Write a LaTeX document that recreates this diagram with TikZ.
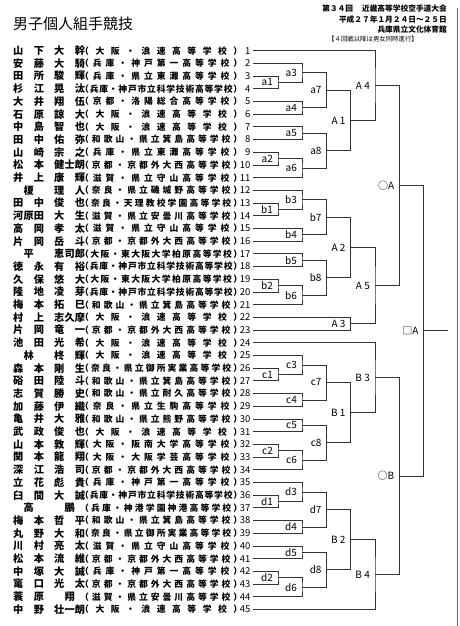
\documentclass[tikz,border=0pt]{standalone}
\usepackage{fontspec}
\setmainfont{Noto Sans CJK JP}
\usetikzlibrary{positioning, calc}

\tikzset{
  bracket/.style={draw=black!80, line width=0.9bp},
  nametxt/.style={anchor=west, inner sep=0pt, font=\fontsize{10.2bp}{11bp}\selectfont\bfseries},
  schooltxt/.style={anchor=west, inner sep=0pt, font=\fontsize{8.8bp}{10bp}\selectfont\bfseries},
  numtxt/.style={anchor=east, inner sep=0pt, font=\fontsize{9.5bp}{10bp}\selectfont},
  boutlbl/.style={inner sep=0pt, font=\fontsize{10bp}{11bp}\selectfont},
  headtxt/.style={anchor=east, inner sep=0pt, font=\fontsize{7.7bp}{9bp}\selectfont\bfseries},
}

% put glue between the characters of a string
\def\spreadchars#1{\spreadA#1\relax}
\def\spreadA#1{\ifx\relax#1\else#1\expandafter\spreadB\fi}
\def\spreadB#1{\ifx\relax#1\else\hfill#1\expandafter\spreadB\fi}
\newcommand{\namehalf}[1]{\hbox to 31bp{\hfil\spreadchars{#1}\hfil}}
\newcommand{\schoolbox}[1]{\hbox to 162bp{\hfil\spreadchars{（#1）}\hfil}}

% one line of the list: number, family name, given name, school
\newcommand{\entrant}[4]{%
  \pgfmathsetmacro{\rowy}{50.7+(#1-1)*12.7}
  \coordinate (p#1) at (253,\rowy);
  \node[nametxt] (nm#1) at (13,\rowy) {\namehalf{#2}\hskip10bp\namehalf{#3}};
  \node[schooltxt] (sc#1) at (80,\rowy) {\schoolbox{#4}};
  \node[numtxt] (no#1) at (250.5,\rowy) {#1};
}

% one bout: name, upper side, lower side, column, label
\newcommand{\bout}[5]{%
  \path let \p1=(#2), \p2=(#3), \p3=(#4) in coordinate (#1) at (\x3,{(\y1+\y2)/2});
  \draw[bracket] (#2) -| (#1) |- (#3);
  \node[boutlbl, left=5bp of #1] (l#1) {#5};
}

\begin{document}
\begin{tikzpicture}[x=1bp, y=-1bp]
  \useasboundingbox (0,0) rectangle (460,626);

  % heading
  \node[anchor=west, inner sep=0pt, font=\fontsize{15bp}{16bp}\selectfont] (title) at (13,23.5) {男子個人組手競技};
  \node[headtxt] (head1) at (447,8.3) {第３４回\hskip9bp 近畿高等学校空手道大会};
  \node[headtxt] (head2) at (447,19.3) {平成２７年１月２４日～２５日};
  \node[headtxt] (head3) at (447,30) {兵庫県立文化体育館};
  \node[headtxt, anchor=west, font=\fontsize{6.4bp}{8bp}\selectfont] (head4) at (328,39.5) {【４回戦以降は男女同時進行】};
  \draw[black!60, line width=0.6bp] (457.5,8) -- (457.5,626);

  % columns of the bracket
  \coordinate (col1) at (278,0);
  \coordinate (col2) at (302,0);
  \coordinate (col3) at (326.7,0);
  \coordinate (col4) at (350.7,0);
  \coordinate (col5) at (375,0);
  \coordinate (col6) at (399.3,0);
  \coordinate (col7) at (423.7,0);
  \coordinate (col8) at (448.3,0);

  % entrants
  \entrant{1}{山下}{大幹}{大阪・浪速高等学校}
  \entrant{2}{安藤}{大騎}{兵庫・神戸第一高等学校}
  \entrant{3}{田所}{駿輝}{兵庫・県立東灘高等学校}
  \entrant{4}{杉江}{晃汰}{兵庫・神戸市立科学技術高等学校}
  \entrant{5}{大井}{翔伍}{京都・洛陽総合高等学校}
  \entrant{6}{石原}{諒大}{大阪・浪速高等学校}
  \entrant{7}{中島}{智也}{大阪・浪速高等学校}
  \entrant{8}{田中}{佑弥}{和歌山・県立箕島高等学校}
  \entrant{9}{山崎}{宗之}{兵庫・県立東灘高等学校}
  \entrant{10}{松本}{健士朗}{京都・京都外大西高等学校}
  \entrant{11}{井上}{康輝}{滋賀・県立守山高等学校}
  \entrant{12}{榎}{理人}{奈良・県立磯城野高等学校}
  \entrant{13}{田中}{俊也}{奈良・天理教校学園高等学校}
  \entrant{14}{河原田}{大生}{滋賀・県立安曇川高等学校}
  \entrant{15}{高岡}{孝太}{滋賀・県立守山高等学校}
  \entrant{16}{片岡}{岳斗}{京都・京都外大西高等学校}
  \entrant{17}{平}{恵司郎}{大阪・東大阪大学柏原高等学校}
  \entrant{18}{徳永}{有裕}{兵庫・神戸市立科学技術高等学校}
  \entrant{19}{久保}{悠大}{大阪・東大阪大学柏原高等学校}
  \entrant{20}{隆地}{凌芽}{兵庫・神戸市立科学技術高等学校}
  \entrant{21}{梅本}{拓巳}{和歌山・県立箕島高等学校}
  \entrant{22}{村上}{志久摩}{大阪・浪速高等学校}
  \entrant{23}{片岡}{竜一}{京都・京都外大西高等学校}
  \entrant{24}{池田}{光希}{大阪・浪速高等学校}
  \entrant{25}{林}{柊輝}{大阪・浪速高等学校}
  \entrant{26}{森本}{剛生}{奈良・県立御所実業高等学校}
  \entrant{27}{硲田}{陸斗}{和歌山・県立箕島高等学校}
  \entrant{28}{志賀}{勝史}{和歌山・県立耐久高等学校}
  \entrant{29}{加藤}{伊織}{奈良・県立生駒高等学校}
  \entrant{30}{亀井}{大雅}{和歌山・県立熊野高等学校}
  \entrant{31}{武政}{俊也}{大阪・浪速高等学校}
  \entrant{32}{山本}{敦輝}{大阪・阪南大学高等学校}
  \entrant{33}{関本}{龍翔}{大阪・大阪学芸高等学校}
  \entrant{34}{深江}{浩司}{京都・京都外大西高等学校}
  \entrant{35}{立花}{彪貴}{兵庫・神戸第一高等学校}
  \entrant{36}{臼間}{大誠}{兵庫・神戸市立科学技術高等学校}
  \entrant{37}{高}{鵬}{兵庫・神港学園神港高等学校}
  \entrant{38}{梅本}{哲平}{和歌山・県立箕島高等学校}
  \entrant{39}{丸野}{大和}{奈良・県立御所実業高等学校}
  \entrant{40}{川村}{亮太}{滋賀・県立守山高等学校}
  \entrant{41}{松本}{流維}{京都・京都外大西高等学校}
  \entrant{42}{中塚}{大誠}{兵庫・神戸第一高等学校}
  \entrant{43}{竃口}{光太}{京都・京都外大西高等学校}
  \entrant{44}{蓑原}{翔}{滋賀・県立安曇川高等学校}
  \entrant{45}{中野}{壮一朗}{大阪・浪速高等学校}

  % block A
  \bout{a1}{p3}{p4}{col1}{a1}
  \bout{a3}{p2}{a1}{col2}{a3}
  \bout{a4}{p5}{p6}{col2}{a4}
  \bout{a7}{a3}{a4}{col3}{a7}
  \bout{a5}{p7}{p8}{col2}{a5}
  \bout{a2}{p9}{p10}{col1}{a2}
  \bout{a6}{a2}{p11}{col2}{a6}
  \bout{a8}{a5}{a6}{col3}{a8}
  \bout{A1}{a7}{a8}{col4}{A 1}
  \bout{A4}{p1}{A1}{col5}{A 4}
  \bout{b1}{p13}{p14}{col1}{b1}
  \bout{b3}{p12}{b1}{col2}{b3}
  \bout{b4}{p15}{p16}{col2}{b4}
  \bout{b7}{b3}{b4}{col3}{b7}
  \bout{b5}{p17}{p18}{col2}{b5}
  \bout{b2}{p19}{p20}{col1}{b2}
  \bout{b6}{b2}{p21}{col2}{b6}
  \bout{b8}{b5}{b6}{col3}{b8}
  \bout{A2}{b7}{b8}{col4}{A 2}
  \bout{A3}{p22}{p23}{col4}{A 3}
  \bout{A5}{A2}{A3}{col5}{A 5}
  \bout{OA}{A4}{A5}{col6}{○A}

  % block B
  \bout{c1}{p26}{p27}{col1}{c1}
  \bout{c3}{p25}{c1}{col2}{c3}
  \bout{c4}{p28}{p29}{col2}{c4}
  \bout{c7}{c3}{c4}{col3}{c7}
  \bout{c5}{p30}{p31}{col2}{c5}
  \bout{c2}{p32}{p33}{col1}{c2}
  \bout{c6}{c2}{p34}{col2}{c6}
  \bout{c8}{c5}{c6}{col3}{c8}
  \bout{B1}{c7}{c8}{col4}{B 1}
  \bout{B3}{p24}{B1}{col5}{B 3}
  \bout{d1}{p36}{p37}{col1}{d1}
  \bout{d3}{p35}{d1}{col2}{d3}
  \bout{d4}{p38}{p39}{col2}{d4}
  \bout{d7}{d3}{d4}{col3}{d7}
  \bout{d5}{p40}{p41}{col2}{d5}
  \bout{d2}{p42}{p43}{col1}{d2}
  \bout{d6}{d2}{p44}{col2}{d6}
  \bout{d8}{d5}{d6}{col3}{d8}
  \bout{B2}{d7}{d8}{col4}{B 2}
  \bout{B4}{B2}{p45}{col5}{B 4}
  \bout{OB}{B3}{B4}{col6}{○B}

  % final
  \bout{SA}{OA}{OB}{col7}{□A}
  \coordinate (win) at (SA -| col8);
  \draw[bracket] (SA) -- (win);
\end{tikzpicture}
\end{document}
